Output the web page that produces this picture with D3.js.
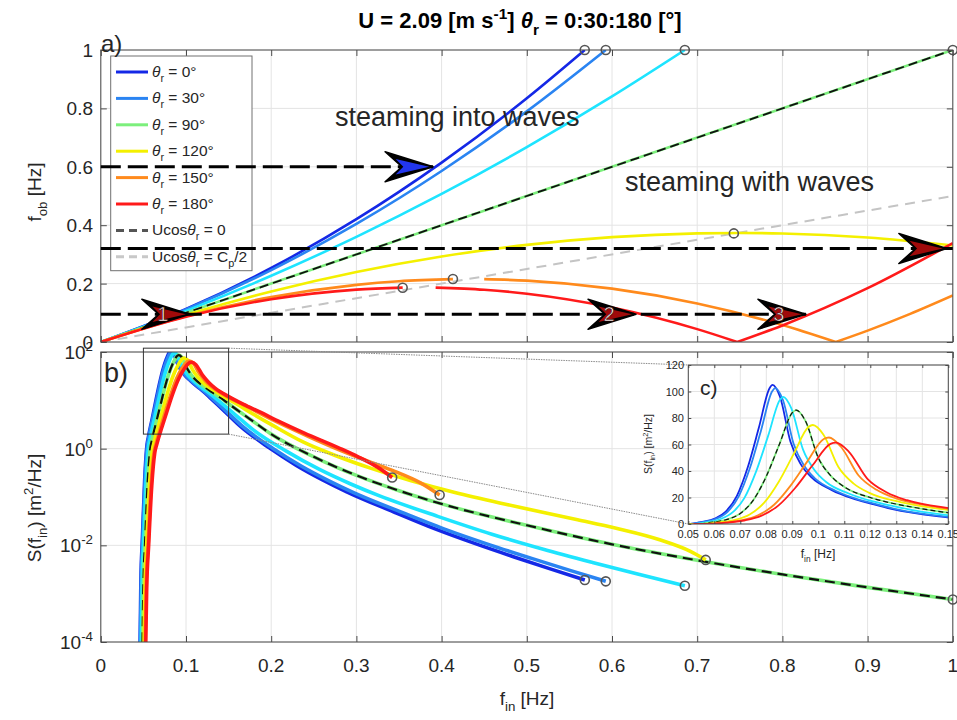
<!DOCTYPE html>
<html>
<head>
<meta charset="utf-8">
<script src="https://d3js.org/d3.v7.min.js"></script>
<style>
  body { margin: 0; background: #fff; }
  svg { font-family: "Liberation Sans", Arial, Helvetica, sans-serif; }
</style>
</head>
<body>
<div id="chart"></div>
<script>
var svgWidth = 957;
var svgHeight = 720;

// relative headings, one colour each
var thetas = [0, 30, 60, 90, 120, 150, 180];
var colors = ["#1428e6", "#2a84f2", "#1ee4ff", "#7cef7c", "#f4f000", "#ff8a1c", "#ff1a1a"];

// a) observed frequency vs intrinsic frequency (null = gap in the line)
var obF = [
  [0, 0.1, 0.2, 0.3, 0.4, 0.5, 0.568],
  [0, 0.1, 0.2, 0.3, 0.4, 0.5, 0.5927],
  [0, 0.1, 0.2, 0.3, 0.4, 0.5, 0.6, 0.6855],
  [0, 1],
  [0, 0.1, 0.2, 0.3, 0.4, 0.5, 0.6, 0.7, 0.75, 0.8, 0.9, 1.0],
  [0, 0.1, 0.2, 0.3, 0.35, 0.4133, null, 0.45, 0.5, 0.6, 0.7, 0.8, 0.8626, null, 0.8626, 0.9, 0.95, 1.0],
  [0, 0.1, 0.2, 0.3, 0.3543, null, 0.393, 0.45, 0.5, 0.6, 0.7, 0.747, null, 0.747, 0.8, 0.9, 1.0]
];
var obV = [
  [0, 0.1134, 0.2535, 0.4205, 0.6142, 0.8347, 1.0],
  [0, 0.1116, 0.2464, 0.4043, 0.5855, 0.7898, 1.0],
  [0, 0.1067, 0.2268, 0.3602, 0.5071, 0.6673, 0.8409, 1.0],
  [0, 1],
  [0, 0.0933, 0.1732, 0.2398, 0.2929, 0.3327, 0.3590, 0.3720, 0.3735, 0.3717, 0.3579, 0.3307],
  [0, 0.0884, 0.1536, 0.1957, 0.2080, 0.2153, null, 0.2152, 0.2102, 0.1827, 0.1320, 0.0581, 0, null, 0, 0.039, 0.0963, 0.1593],
  [0, 0.0866, 0.1465, 0.1795, 0.1863, null, 0.1863, 0.1789, 0.1654, 0.1181, 0.0441, 0, null, 0, 0.0567, 0.1843, 0.3386]
];
var obMarkF = [0.568, 0.5927, 0.6855, 1.0, 0.743, 0.4133, 0.3543];
var obMarkV = [1, 1, 1, 1, 0.372, 0.2155, 0.186];
var halfF = [0, 1];
var halfV = [0, 0.5];

// b) / c) spectra S(f_in)
var specF = [
  [0.0457, 0.0462, 0.0470, 0.0488, 0.0515, 0.0541, 0.0558, 0.0602, 0.0644, 0.0687, 0.0729, 0.0771, 0.0812, 0.0824, 0.0853, 0.0893, 0.0933, 0.0973, 0.1052, 0.1129, 0.1206, 0.1281, 0.1463, 0.1640, 0.1977, 0.2295, 0.2597, 0.2886, 0.3428, 0.3931, 0.4404, 0.4851, 0.5275, 0.5681],
  [0.0460, 0.0465, 0.0474, 0.0492, 0.0519, 0.0546, 0.0563, 0.0607, 0.0651, 0.0694, 0.0737, 0.0780, 0.0822, 0.0834, 0.0864, 0.0905, 0.0946, 0.0987, 0.1068, 0.1147, 0.1226, 0.1303, 0.1492, 0.1675, 0.2025, 0.2356, 0.2672, 0.2974, 0.3544, 0.4075, 0.4574, 0.5047, 0.5497, 0.5927],
  [0.0470, 0.0475, 0.0484, 0.0503, 0.0531, 0.0559, 0.0578, 0.0624, 0.0670, 0.0716, 0.0761, 0.0807, 0.0852, 0.0865, 0.0896, 0.0941, 0.0985, 0.1029, 0.1117, 0.1203, 0.1289, 0.1374, 0.1583, 0.1786, 0.2182, 0.2561, 0.2927, 0.3280, 0.3954, 0.4590, 0.5194, 0.5771, 0.6324, 0.6855],
  [0.0485, 0.049, 0.05, 0.052, 0.055, 0.058, 0.06, 0.065, 0.07, 0.075, 0.08, 0.085, 0.09, 0.0915, 0.095, 0.1, 0.105, 0.11, 0.12, 0.13, 0.14, 0.15, 0.175, 0.2, 0.25, 0.3, 0.35, 0.4, 0.5, 0.6, 0.7, 0.8, 0.9, 1.0],
  [0.0502, 0.0507, 0.0518, 0.0539, 0.0572, 0.0605, 0.0626, 0.0681, 0.0736, 0.0792, 0.0848, 0.0905, 0.0962, 0.0979, 0.1020, 0.1078, 0.1136, 0.1196, 0.1316, 0.1439, 0.1564, 0.1692, 0.2024, 0.2379, 0.2760, 0.3174, 0.3634, 0.4156, 0.4778, 0.5596, 0.6049, 0.6560, 0.6920, 0.7100],
  [0.0516, 0.0522, 0.0533, 0.0556, 0.0590, 0.0625, 0.0649, 0.0708, 0.0768, 0.0830, 0.0892, 0.0956, 0.1021, 0.1041, 0.1087, 0.1155, 0.1224, 0.1294, 0.1441, 0.1595, 0.1759, 0.1933, 0.2440, 0.2755, 0.3151, 0.3449, 0.3752, 0.3977],
  [0.0521, 0.0527, 0.0539, 0.0562, 0.0598, 0.0634, 0.0658, 0.0719, 0.0782, 0.0846, 0.0911, 0.0978, 0.1047, 0.1068, 0.1117, 0.1189, 0.1264, 0.1341, 0.1502, 0.1676, 0.1866, 0.2078, 0.2389, 0.2798, 0.3025, 0.3242, 0.3420]
];
var specS = [
  [1.1e-5, 1.12e-4, 1.69e-3, 1.36e-2, 0.228, 1.15, 1.72, 4.06, 9.38, 21.3, 43.0, 72.4, 102.3, 105.0, 95.8, 62.0, 45.0, 35.3, 25.6, 19.5, 15.2, 11.4, 5.71, 2.88, 1.04, 0.452, 0.229, 0.128, 0.0499, 0.0216, 0.0107, 0.00575, 0.00326, 0.00192],
  [1.1e-5, 1.11e-4, 1.67e-3, 1.34e-2, 0.224, 1.13, 1.70, 3.99, 9.21, 20.9, 42.2, 70.8, 100.0, 102.6, 93.6, 60.5, 43.9, 34.4, 24.95, 19.0, 14.8, 11.1, 5.52, 2.78, 1.0, 0.433, 0.219, 0.122, 0.0474, 0.0204, 0.0101, 0.00543, 0.00307, 0.0018],
  [1.06e-5, 1.06e-4, 1.6e-3, 1.28e-2, 0.214, 1.08, 1.62, 3.79, 8.72, 19.7, 39.7, 66.5, 93.6, 96.0, 87.4, 56.3, 40.8, 31.9, 23.0, 17.4, 13.5, 10.06, 4.97, 2.48, 0.879, 0.376, 0.188, 0.104, 0.0398, 0.017, 0.0083, 0.00443, 0.00249, 0.00146],
  [1e-5, 1e-4, 1.5e-3, 1.2e-2, 0.2, 1.0, 1.5, 3.5, 8, 18, 36, 60, 84, 86, 78, 50, 36, 28, 20, 15, 11.5, 8.5, 4.1, 2.0, 0.68, 0.28, 0.135, 0.072, 0.026, 0.0105, 0.0049, 0.0025, 0.00135, 0.00076],
  [9.3e-6, 9.3e-5, 1.4e-3, 1.11e-2, 0.185, 0.919, 1.37, 3.18, 7.21, 16.1, 31.9, 52.7, 73.2, 74.7, 67.4, 42.8, 30.5, 23.5, 16.5, 12.1, 9.09, 6.58, 2.99, 1.36, 0.714, 0.391, 0.220, 0.124, 0.0691, 0.0339, 0.0225, 0.013, 0.0075, 0.005],
  [8.8e-6, 8.8e-5, 1.32e-3, 1.05e-2, 0.173, 0.855, 1.27, 2.93, 6.58, 14.5, 28.6, 46.7, 64.1, 65.3, 58.3, 36.6, 25.8, 19.6, 13.3, 9.45, 6.81, 4.69, 1.78, 1.02, 0.539, 0.339, 0.196, 0.110],
  [8.6e-6, 8.6e-5, 1.28e-3, 1.02e-2, 0.168, 0.83, 1.24, 2.83, 6.33, 13.9, 27.2, 44.3, 60.5, 61.4, 54.7, 34.1, 23.8, 17.95, 11.96, 8.27, 5.75, 3.77, 2.10, 1.03, 0.671, 0.420, 0.2535]
];

// ticks
var fTicks = [0, 0.1, 0.2, 0.3, 0.4, 0.5, 0.6, 0.7, 0.8, 0.9, 1];
var obTicks = [0, 0.2, 0.4, 0.6, 0.8, 1];
var sTicks = [1e-4, 1e-2, 1, 1e2];
var sExp = ["-4", "-2", "0", "2"];
var inFTicks = [0.05, 0.06, 0.07, 0.08, 0.09, 0.1, 0.11, 0.12, 0.13, 0.14, 0.15];
var inSTicks = [0, 20, 40, 60, 80, 100, 120];

// annotation arrows in a)
var arrowLevel = [0.6, 0.32, 0.095];
var arrowLineEnd = [0.39, 1.0, 0.8276];
var headF = [0.39, 0.993, 0.1045, 0.6282, 0.8276];
var headV = [0.6, 0.32, 0.095, 0.095, 0.095];
var headText = ["", "", "1", "2", "3"];
var headFill = ["#2236ee", "#a00a0a", "#a00a0a", "#a00a0a", "#a00a0a"];

// zoom window of c) inside b)
var zoomF = [0.05, 0.15];
var zoomS = [2, 120];

var svg = d3.select("#chart").append("svg")
  .attr("width", svgWidth)
  .attr("height", svgHeight);

var xScale = d3.scaleLinear().domain([0, 1]).range([100.8, 952.8]);
var yTop = d3.scaleLinear().domain([0, 1]).range([342, 50]);
var yBot = d3.scaleLog().domain([1e-4, 1e2]).range([642, 352]);
var xIn = d3.scaleLinear().domain([0.05, 0.15]).range([688.3, 948.3]);
var yIn = d3.scaleLinear().domain([0, 120]).range([524, 365]);

var textColor = "#262626";
var frameColor = "#4a4a4a";
var gridColor = "#e4e4e4";

// text with italic / sub / superscript pieces
function rich(sel, parts, size) {
  var shift = 0;
  parts.forEach(function(p) {
    var t = sel.append("tspan").text(p.t);
    var want = p.sub ? size * 0.32 : (p.sup ? -size * 0.42 : 0);
    if (want !== shift) t.attr("dy", want - shift);
    shift = want;
    if (p.sub || p.sup) t.attr("font-size", size * 0.7);
    if (p.i) t.style("font-style", "italic");
  });
}

function grid(x, y, xt, yt) {
  var g = svg.append("g");
  g.selectAll(".gx").data(xt).enter().append("line")
    .attr("x1", d => x(d)).attr("x2", d => x(d))
    .attr("y1", y.range()[0]).attr("y2", y.range()[1])
    .attr("stroke", gridColor);
  g.selectAll(".gy").data(yt).enter().append("line")
    .attr("y1", d => y(d)).attr("y2", d => y(d))
    .attr("x1", x.range()[0]).attr("x2", x.range()[1])
    .attr("stroke", gridColor);
}

function frame(x, y, xt, yt, len) {
  var x0 = x.range()[0], x1 = x.range()[1];
  var y0 = y.range()[0], y1 = y.range()[1];
  var axes = [
    svg.append("g").attr("transform", `translate(0,${y0})`).call(d3.axisBottom(x).tickValues(xt).tickSize(-len).tickFormat("")),
    svg.append("g").attr("transform", `translate(0,${y1})`).call(d3.axisTop(x).tickValues(xt).tickSize(-len).tickFormat("")),
    svg.append("g").attr("transform", `translate(${x0},0)`).call(d3.axisLeft(y).tickValues(yt).tickSize(-len).tickFormat("")),
    svg.append("g").attr("transform", `translate(${x1},0)`).call(d3.axisRight(y).tickValues(yt).tickSize(-len).tickFormat(""))
  ];
  axes.forEach(function(a) {
    a.select(".domain").remove();
    a.selectAll("line").attr("stroke", frameColor);
  });
  svg.append("rect")
    .attr("x", x0).attr("y", Math.min(y0, y1))
    .attr("width", x1 - x0).attr("height", Math.abs(y0 - y1))
    .attr("fill", "none").attr("stroke", frameColor).attr("stroke-width", 1);
}

function clip(id, x, y) {
  svg.append("clipPath").attr("id", id).append("rect")
    .attr("x", x.range()[0]).attr("y", Math.min(y.range()[0], y.range()[1]))
    .attr("width", x.range()[1] - x.range()[0])
    .attr("height", Math.abs(y.range()[0] - y.range()[1]));
}

// ---------------- a) ----------------
grid(xScale, yTop, fTicks, obTicks);
clip("clipA", xScale, yTop);

var lineA = d3.line()
  .defined(d => d[0] != null && d[1] != null)
  .x(d => xScale(d[0])).y(d => yTop(d[1]))
  .curve(d3.curveMonotoneX);

var gA = svg.append("g").attr("clip-path", "url(#clipA)");

gA.append("path")
  .attr("d", lineA(d3.zip(halfF, halfV)))
  .attr("fill", "none").attr("stroke", "#c4c4c4")
  .attr("stroke-width", 2).attr("stroke-dasharray", "10,7");

thetas.forEach(function(th, i) {
  gA.append("path")
    .attr("d", lineA(d3.zip(obF[i], obV[i])))
    .attr("fill", "none").attr("stroke", colors[i])
    .attr("stroke-width", 2.6);
  if (th === 90) {
    gA.append("path")
      .attr("d", lineA(d3.zip(obF[i], obV[i])))
      .attr("fill", "none").attr("stroke", "#111")
      .attr("stroke-width", 1.8).attr("stroke-dasharray", "9,5");
  }
});

svg.append("g").selectAll("circle")
  .data(d3.zip(obMarkF, obMarkV))
  .enter().append("circle")
  .attr("cx", d => xScale(d[0])).attr("cy", d => yTop(d[1]))
  .attr("r", 4.5).attr("fill", "none")
  .attr("stroke", "#555").attr("stroke-width", 1.6);

frame(xScale, yTop, fTicks, obTicks, 6);

svg.append("g").selectAll("text")
  .data(obTicks).enter().append("text")
  .attr("x", 93).attr("y", d => yTop(d) + 7)
  .attr("text-anchor", "end").attr("font-size", 19).attr("fill", textColor)
  .text(d => d3.format("~g")(d));

// legend
var legendIdx = [0, 1, 3, 4, 5, 6];
var legendItems = legendIdx.map(function(i) {
  return { color: colors[i], dash: null, parts: [{ t: "θ", i: true }, { t: "r", sub: true }, { t: " = " + thetas[i] + "°" }] };
});
legendItems.push({ color: "#555", dash: "8,5", parts: [{ t: "Ucos" }, { t: "θ", i: true }, { t: "r", sub: true }, { t: " = 0" }] });
legendItems.push({ color: "#c8c8c8", dash: "8,5", parts: [{ t: "Ucos" }, { t: "θ", i: true }, { t: "r", sub: true }, { t: " = C" }, { t: "p", sub: true }, { t: "/2" }] });

var legend = svg.append("g");
legend.append("rect")
  .attr("x", 110.7).attr("y", 56).attr("width", 141.3).attr("height", 214.7)
  .attr("fill", "#fff").attr("stroke", "#707070");
legendItems.forEach(function(it, k) {
  var ly = 72 + k * 26.4;
  legend.append("line")
    .attr("x1", 116).attr("x2", 148).attr("y1", ly).attr("y2", ly)
    .attr("stroke", it.color).attr("stroke-width", 3)
    .attr("stroke-dasharray", it.dash);
  var t = legend.append("text")
    .attr("x", 152).attr("y", ly + 5)
    .attr("font-size", 15.5).attr("fill", textColor);
  rich(t, it.parts, 15.5);
});

// arrows
var gArrow = svg.append("g");
arrowLevel.forEach(function(v, k) {
  gArrow.append("line")
    .attr("x1", xScale(0)).attr("x2", xScale(arrowLineEnd[k]))
    .attr("y1", yTop(v)).attr("y2", yTop(v))
    .attr("stroke", "#000").attr("stroke-width", 3)
    .attr("stroke-dasharray", "20,7");
});
var L = 48, W = 15;
headF.forEach(function(f, k) {
  var tx = xScale(f), ty = yTop(headV[k]);
  var g = gArrow.append("g").attr("transform", `translate(${tx},${ty})`);
  g.append("polygon")
    .attr("points", [[0, 0], [-L, -W], [-0.65 * L, 0], [-L, W]].map(p => p.join(",")).join(" "))
    .attr("fill", "#000").attr("stroke", "#000").attr("stroke-width", 1.5)
    .attr("stroke-linejoin", "round");
  g.append("polygon")
    .attr("points", [[-4, 0], [-0.78 * L, -0.52 * W], [-0.62 * L, 0], [-0.78 * L, 0.52 * W]].map(p => p.join(",")).join(" "))
    .attr("fill", headFill[k]);
  if (headText[k]) {
    g.append("text")
      .attr("x", -27).attr("y", 7)
      .attr("text-anchor", "middle").attr("font-size", 20)
      .attr("fill", "#fff").attr("stroke", "#3a0000").attr("stroke-width", 0.6)
      .text(headText[k]);
  }
});

svg.append("text").attr("x", 335).attr("y", 126)
  .attr("font-size", 27).attr("fill", textColor).text("steaming into waves");
svg.append("text").attr("x", 625).attr("y", 191)
  .attr("font-size", 27).attr("fill", textColor).text("steaming with waves");
svg.append("text").attr("x", 101).attr("y", 52)
  .attr("font-size", 24).attr("fill", textColor).text("a)");

// ---------------- b) ----------------
grid(xScale, yBot, fTicks, sTicks);
clip("clipB", xScale, yBot);

var lineB = d3.line()
  .x(d => xScale(d[0])).y(d => yBot(d[1]))
  .curve(d3.curveMonotoneX);

var gB = svg.append("g").attr("clip-path", "url(#clipB)");
thetas.forEach(function(th, i) {
  var pts = d3.zip(specF[i], specS[i]);
  gB.append("path")
    .attr("d", lineB(pts))
    .attr("fill", "none").attr("stroke", colors[i])
    .attr("stroke-width", 3.6);
  if (th === 90) {
    gB.append("path")
      .attr("d", lineB(pts))
      .attr("fill", "none").attr("stroke", "#111")
      .attr("stroke-width", 2.2).attr("stroke-dasharray", "10,6");
  }
});

svg.append("g").selectAll("circle")
  .data(thetas.map((th, i) => [specF[i][specF[i].length - 1], specS[i][specS[i].length - 1]]))
  .enter().append("circle")
  .attr("cx", d => xScale(d[0])).attr("cy", d => yBot(d[1]))
  .attr("r", 4.5).attr("fill", "none")
  .attr("stroke", "#555").attr("stroke-width", 1.6);

frame(xScale, yBot, fTicks, sTicks, 6);

svg.append("g").selectAll("text")
  .data(fTicks).enter().append("text")
  .attr("x", d => xScale(d)).attr("y", 672)
  .attr("text-anchor", "middle").attr("font-size", 19).attr("fill", textColor)
  .text(d => d3.format("~g")(d));

sTicks.forEach(function(v, k) {
  var t = svg.append("text")
    .attr("x", 93).attr("y", yBot(v) + 7)
    .attr("text-anchor", "end").attr("font-size", 19).attr("fill", textColor);
  rich(t, [{ t: "10" }, { t: sExp[k], sup: true }], 19);
});

svg.append("text").attr("x", 104).attr("y", 382)
  .attr("font-size", 27).attr("fill", textColor).text("b)");

// zoom window and connectors
svg.append("rect")
  .attr("x", xScale(zoomF[0])).attr("y", yBot(zoomS[1]))
  .attr("width", xScale(zoomF[1]) - xScale(zoomF[0]))
  .attr("height", yBot(zoomS[0]) - yBot(zoomS[1]))
  .attr("fill", "none").attr("stroke", "#333").attr("stroke-width", 1);
[[zoomS[1], 120], [zoomS[0], 0]].forEach(function(p) {
  svg.append("line")
    .attr("x1", xScale(zoomF[1])).attr("y1", yBot(p[0]))
    .attr("x2", xIn(0.05)).attr("y2", yIn(p[1]))
    .attr("stroke", "#8a8a8a").attr("stroke-width", 1)
    .attr("stroke-dasharray", "1.5,1");
});

// ---------------- c) inset ----------------
svg.append("rect")
  .attr("x", xIn.range()[0]).attr("y", yIn.range()[1])
  .attr("width", xIn.range()[1] - xIn.range()[0])
  .attr("height", yIn.range()[0] - yIn.range()[1])
  .attr("fill", "#fff");
grid(xIn, yIn, inFTicks, inSTicks);
clip("clipC", xIn, yIn);

var lineC = d3.line()
  .x(d => xIn(d[0])).y(d => yIn(d[1]))
  .curve(d3.curveMonotoneX);

var gC = svg.append("g").attr("clip-path", "url(#clipC)");
thetas.forEach(function(th, i) {
  var pts = d3.zip(specF[i], specS[i]);
  gC.append("path")
    .attr("d", lineC(pts))
    .attr("fill", "none").attr("stroke", colors[i])
    .attr("stroke-width", 1.8);
  if (th === 90) {
    gC.append("path")
      .attr("d", lineC(pts))
      .attr("fill", "none").attr("stroke", "#111")
      .attr("stroke-width", 1.2).attr("stroke-dasharray", "5,3");
  }
});

frame(xIn, yIn, inFTicks, inSTicks, 3);

svg.append("g").selectAll("text")
  .data(inFTicks).enter().append("text")
  .attr("x", d => xIn(d)).attr("y", 538)
  .attr("text-anchor", "middle").attr("font-size", 11).attr("fill", textColor)
  .text(d => d3.format("~g")(d));
svg.append("g").selectAll("text")
  .data(inSTicks).enter().append("text")
  .attr("x", 684).attr("y", d => yIn(d) + 4)
  .attr("text-anchor", "end").attr("font-size", 11).attr("fill", textColor)
  .text(d => d);

svg.append("text").attr("x", 700).attr("y", 395)
  .attr("font-size", 21).attr("fill", textColor).text("c)");

var inY = svg.append("text")
  .attr("transform", "translate(652,444) rotate(-90)")
  .attr("text-anchor", "middle").attr("font-size", 10.5).attr("fill", textColor);
rich(inY, [{ t: "S(f" }, { t: "in", sub: true }, { t: ") [m" }, { t: "2", sup: true }, { t: "/Hz]" }], 10.5);
var inX = svg.append("text")
  .attr("x", 818).attr("y", 558)
  .attr("text-anchor", "middle").attr("font-size", 12).attr("fill", textColor);
rich(inX, [{ t: "f" }, { t: "in", sub: true }, { t: " [Hz]" }], 12);

// ---------------- labels and title ----------------
var yLabA = svg.append("text")
  .attr("transform", "translate(41,192) rotate(-90)")
  .attr("text-anchor", "middle").attr("font-size", 19).attr("fill", textColor);
rich(yLabA, [{ t: "f" }, { t: "ob", sub: true }, { t: " [Hz]" }], 19);

var yLabB = svg.append("text")
  .attr("transform", "translate(41,508) rotate(-90)")
  .attr("text-anchor", "middle").attr("font-size", 19).attr("fill", textColor);
rich(yLabB, [{ t: "S(f" }, { t: "in", sub: true }, { t: ") [m" }, { t: "2", sup: true }, { t: "/Hz]" }], 19);

var xLab = svg.append("text")
  .attr("x", 527).attr("y", 705)
  .attr("text-anchor", "middle").attr("font-size", 19).attr("fill", textColor);
rich(xLab, [{ t: "f" }, { t: "in", sub: true }, { t: " [Hz]" }], 19);

var title = svg.append("text")
  .attr("x", 520).attr("y", 28)
  .attr("text-anchor", "middle").attr("font-size", 22)
  .attr("font-weight", "bold").attr("fill", "#000");
rich(title, [{ t: "U = 2.09 [m s" }, { t: "-1", sup: true }, { t: "] " }, { t: "θ", i: true }, { t: "r", sub: true }, { t: " = 0:30:180 [°]" }], 22);
</script>
</body>
</html>
